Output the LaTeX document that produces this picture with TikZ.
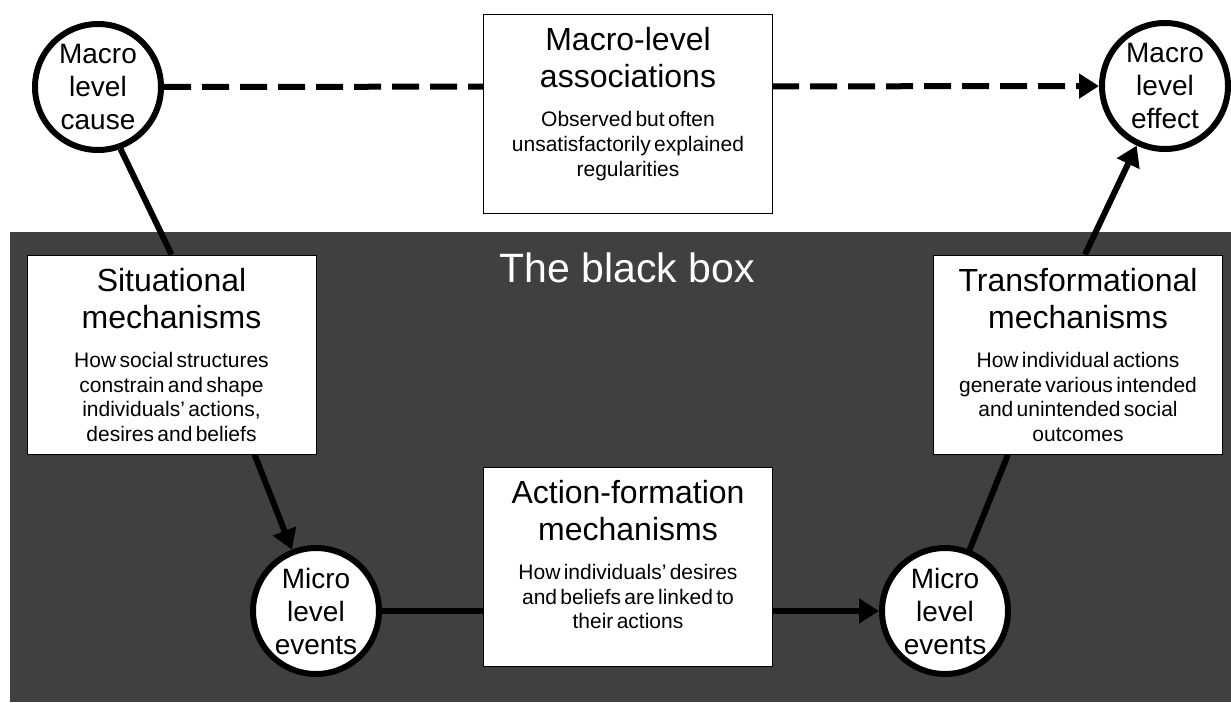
\documentclass[tikz,border=0pt]{standalone}
\usepackage{fontspec}
\setmainfont{Liberation Sans}
\usetikzlibrary{arrows.meta,backgrounds}
\definecolor{boxgray}{HTML}{404040}
\newcommand\boxtitle[1]{{\fontsize{32}{37}\selectfont #1\par}\vspace{14.5pt}}
\newcommand\boxbody[1]{{\fontsize{21}{24.8}\selectfont #1\par}}

\begin{document}
\begin{tikzpicture}[x=1pt,y=-1pt,
  lvlcirc/.style={circle, draw, line width=6pt, fill=white, minimum size=126pt, inner sep=0pt, align=center, font=\fontsize{28}{33}\selectfont},
  mechbox/.style={draw, line width=1pt, fill=white, text width=289pt, inner sep=0pt, align=center, text height=36pt, text depth=163pt},
  conn/.style={line width=6pt, -{Triangle[length=20pt,width=24pt]}},
]
  \useasboundingbox (0,0) rectangle (1231,702);
  \node[lvlcirc] (cause) at (98,87) {Macro\\level\\cause};
  \node[lvlcirc] (effect) at (1165,86) {Macro\\level\\effect};
  \node[lvlcirc] (microL) at (316,611) {Micro\\level\\events};
  \node[lvlcirc] (microR) at (945,611) {Micro\\level\\events};
  \node[mechbox] (assoc) at (628,114) {\boxtitle{Macro-level\\associations}\boxbody{Observed but often\\unsatisfactorily explained\\regularities}};
  \node[mechbox] (situ) at (171.5,354.5) {\boxtitle{Situational\\mechanisms}\boxbody{How social structures\\constrain and shape\\individuals’ actions,\\desires and beliefs}};
  \node[mechbox] (trans) at (1078,354.5) {\boxtitle{Transformational\\mechanisms}\boxbody{How individual actions\\generate various intended\\and unintended social\\outcomes}};
  \node[mechbox] (action) at (628,566.5) {\boxtitle{Action-formation\\mechanisms}\boxbody{How individuals’ desires\\and beliefs are linked to\\their actions}};
  \node[text=white, font=\fontsize{41}{49}\selectfont] (blackbox) at (627,268) {The black box};
  \begin{scope}[on background layer]
    \fill[boxgray] (10,232) rectangle (1231,702);
    \draw[conn, dash pattern=on 27pt off 11pt] (cause) -- (effect);
    \draw[line width=6pt] (cause.-70) -- (situ.north);
    \draw[conn] ([xshift=83pt]situ.south) -- (microL);
    \draw[conn] (microL) -- (microR);
    \draw[line width=6pt] (microR) -- ([xshift=-70pt]trans.south);
    \draw[conn] ([xshift=7pt]trans.north) -- (effect);
  \end{scope}
\end{tikzpicture}
\end{document}
